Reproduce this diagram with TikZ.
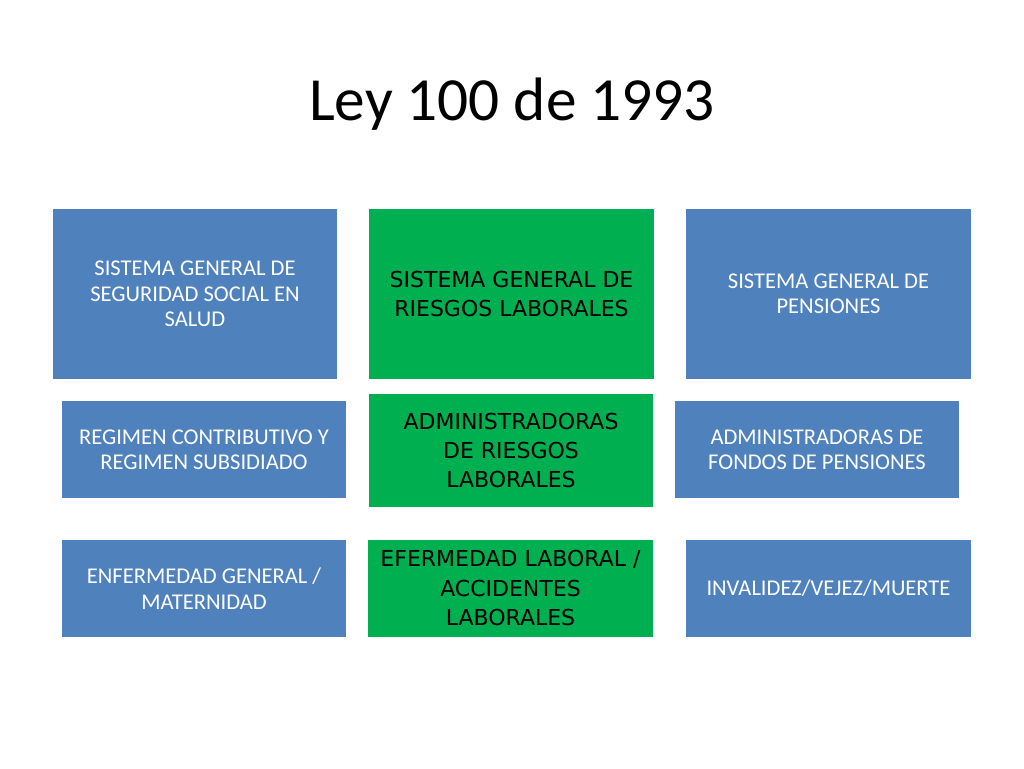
\documentclass[tikz,border=0pt]{standalone}
\usepackage{fontspec}
\setmainfont{Carlito}
\newfontfamily\comicfont{DejaVu Sans}
\usepackage{tikz}
\usetikzlibrary{positioning}
\definecolor{leyBlue}{HTML}{4F81BD}
\definecolor{leyGreen}{HTML}{00B050}

\begin{document}
\begin{tikzpicture}[x=0.75pt, y=-0.75pt,
	bluebox/.style={fill=leyBlue, text=white, align=center, inner sep=0pt,
		font=\fontsize{16.9}{19.1}\selectfont},
	greenbox/.style={fill=leyGreen, text=black, align=center, inner sep=0pt,
		font=\comicfont\fontsize{16.5}{21.8}\selectfont},
	tall/.style={minimum width=213.5pt, minimum height=127.5pt},
	short/.style={minimum width=213pt, minimum height=72.75pt}]

	\useasboundingbox[fill=white] (0,0) rectangle (1024,768);

	\node[anchor=base, font=\fontsize{46}{50}\selectfont] (titulo) at (512,120) {Ley 100 de 1993};

% fila 1
	\node[bluebox, tall] (salud) at (195,294) {SISTEMA GENERAL DE\\SEGURIDAD SOCIAL EN\\SALUD};
	\node[greenbox, tall] (riesgos) at (511.5,294) {SISTEMA GENERAL DE\\RIESGOS LABORALES};
	\node[bluebox, tall] (pensiones) at (828.5,294) {SISTEMA GENERAL DE\\PENSIONES};

% fila 2
	\node[bluebox, short] (regimen) at (204,449.5) {REGIMEN CONTRIBUTIVO Y\\REGIMEN SUBSIDIADO};
	\node[greenbox, short, minimum height=84.75pt] (arl) at (511,450.5) {ADMINISTRADORAS\\DE RIESGOS\\LABORALES};
	\node[bluebox, short] (fondos) at (817,449.5) {ADMINISTRADORAS DE\\FONDOS DE PENSIONES};

% fila 3
	\node[bluebox, short] (enfermedad) at (204,588.5) {ENFERMEDAD GENERAL /\\MATERNIDAD};
	\node[greenbox, short, minimum width=213.75pt] (accidentes) at (510.5,588) {EFERMEDAD LABORAL /\\ACCIDENTES\\LABORALES};
	\node[bluebox, short, minimum width=213.75pt] (invalidez) at (828.5,588.5) {INVALIDEZ/VEJEZ/MUERTE};

\end{tikzpicture}
\end{document}
